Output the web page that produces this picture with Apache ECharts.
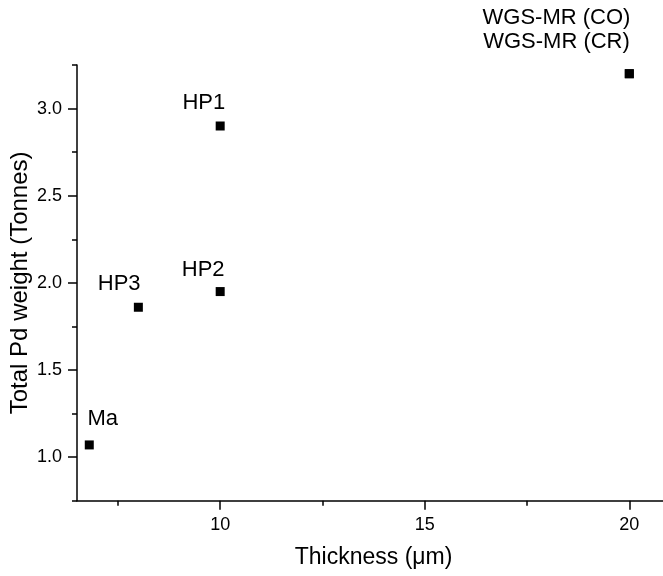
<!DOCTYPE html>
<html>
<head>
<meta charset="utf-8">
<script src="https://cdn.jsdelivr.net/npm/echarts@6/dist/echarts.min.js"></script>
<style>
html,body{margin:0;padding:0;background:#fff;}
#chart{width:663px;height:576px;}
</style>
</head>
<body>
<div id="chart"></div>
<script>
// ---- data ----
const names = ['Ma', 'HP3', 'HP2', 'HP1', 'WGS-MR (CO)', 'WGS-MR (CR)'];
const thickness = [6.8, 8, 10, 10, 20, 20];
const pdWeight = [1.07, 1.86, 1.95, 2.9, 3.2, 3.2];
const xMajorTicks = [10, 15, 20];
const xMinorTicks = [7.5, 12.5, 17.5];
const yMajorTicks = [1.0, 1.5, 2.0, 2.5, 3.0];
const yMinorTicks = [0.75, 1.25, 1.75, 2.25, 2.75, 3.25];
const xTitle = 'Thickness (μm)';
const yTitle = 'Total Pd weight (Tonnes)';

// ---- styling ----
const FONT = "'Liberation Sans', Arial, sans-serif";
const labelOffsets = {
  'Ma': [13.5, -25.7],
  'HP3': [-19.2, -23.2],
  'HP2': [-17, -21.5],
  'HP1': [-16.4, -23],
  'WGS-MR (CO)': [-72.8, -55.5],
  'WGS-MR (CR)': [-72.8, -32.2]
};

const seriesData = names.map((n, i) => ({ name: n, value: [thickness[i], pdWeight[i]] }));

const axisLineStyle = { color: '#000', width: 1.5 };
const X_MIN = 6.5, X_MAX = 21, Y_MIN = 0.75, Y_MAX = 3.25;

const option = {
  animation: false,
  backgroundColor: '#fff',
  grid: { left: 77, top: 65, right: -7.2, bottom: 75.3, containLabel: false, outerBoundsMode: 'none' },
  xAxis: [
    {
      type: 'value', min: X_MIN, max: X_MAX,
      position: 'bottom',
      axisLine: { show: true, onZero: false, lineStyle: axisLineStyle },
      axisTick: { show: true, inside: false, length: 9, customValues: xMajorTicks, lineStyle: axisLineStyle },
      axisLabel: { show: true, customValues: xMajorTicks, fontSize: 18, color: '#000', margin: 15, fontFamily: FONT },
      splitLine: { show: false },
      name: xTitle, nameLocation: 'middle', nameGap: 45, nameMoveOverlap: false,
      nameTextStyle: { fontSize: 23, color: '#000', fontFamily: FONT }
    },
    {
      type: 'value', min: X_MIN, max: X_MAX,
      position: 'bottom',
      axisLine: { show: false, onZero: false },
      axisTick: { show: true, inside: false, length: 5, customValues: xMinorTicks, lineStyle: axisLineStyle },
      axisLabel: { show: false },
      splitLine: { show: false }
    }
  ],
  yAxis: [
    {
      type: 'value', min: Y_MIN, max: Y_MAX,
      position: 'left',
      axisLine: { show: true, onZero: false, lineStyle: axisLineStyle },
      axisTick: { show: true, inside: false, length: 9, customValues: yMajorTicks, lineStyle: axisLineStyle },
      axisLabel: {
        show: true, customValues: yMajorTicks, fontSize: 18, color: '#000', margin: 15, fontFamily: FONT,
        formatter: v => Number(v).toFixed(1)
      },
      splitLine: { show: false },
      name: yTitle, nameLocation: 'middle', nameGap: 45, nameRotate: 90, nameMoveOverlap: false,
      nameTextStyle: { fontSize: 24, color: '#000', fontFamily: FONT }
    },
    {
      type: 'value', min: Y_MIN, max: Y_MAX,
      position: 'left',
      axisLine: { show: false, onZero: false },
      axisTick: { show: true, inside: false, length: 5, customValues: yMinorTicks, lineStyle: axisLineStyle },
      axisLabel: { show: false },
      splitLine: { show: false }
    }
  ],
  series: [
    {
      type: 'scatter',
      xAxisIndex: 0, yAxisIndex: 0,
      symbol: 'rect', symbolSize: 9,
      itemStyle: { color: '#000', opacity: 1 },
      label: {
        show: true, position: 'inside', formatter: '{b}',
        fontSize: 22, color: '#000', fontFamily: FONT,
        align: 'center', verticalAlign: 'middle'
      },
      labelLayout: function (p) {
        const off = labelOffsets[names[p.dataIndex]] || [0, 0];
        return { dx: off[0], dy: off[1], hideOverlap: false };
      },
      data: seriesData
    }
  ]
};

const chart = echarts.init(document.getElementById('chart'), null, { renderer: 'canvas' });
chart.setOption(option);
</script>
</body>
</html>
